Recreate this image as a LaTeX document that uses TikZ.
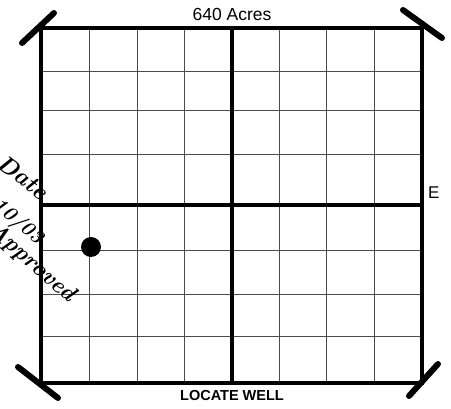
\documentclass[tikz,border=0pt]{standalone}
\usepackage{fontspec}
\setmainfont{Liberation Sans}
\begin{document}
\begin{tikzpicture}[x=1pt,y=-1pt,
  gridline/.style={draw=black!70,line width=0.9pt},
  border/.style={draw=black,line width=3.2pt},
  midline/.style={draw=black,line width=4.5pt},
  cornermark/.style={draw=black,line width=6pt,line cap=round},
  hand/.style={font=\fontspec{Latin Modern Roman}\bfseries\itshape,inner sep=0pt}]
\useasboundingbox (0,0) rectangle (451,409);
% thin grid lines
\foreach \x in {89,137,184,279,326,374} \draw[gridline] (\x,28) -- (\x,383);
\foreach \y in {71,110,154,250,294,336} \draw[gridline] (41,\y) -- (422,\y);
% thick center lines
\draw[midline] (232,28) -- (232,383);
\draw[midline] (41,205) -- (422,205);
% border
\draw[border] (41,28) rectangle (422,383);
% corner marks
\draw[cornermark] (22,43) -- (54,13);
\draw[cornermark] (403,10) -- (442,38);
\draw[cornermark] (18,367) -- (58,398);
\draw[cornermark] (409,396) -- (438,364);
% well location
\fill[black] (91,247) circle (10);
% texts
\node[font=\fontsize{17.5}{20}\selectfont,anchor=base] (acres) at (232,21) {640 Acres};
\node[font=\fontsize{17}{20}\selectfont,anchor=base west,inner sep=0pt] (east) at (428,199) {E};
\node[font=\fontsize{14.5}{17}\selectfont\bfseries,anchor=base] (locate) at (232,401) {LOCATE WELL};
% handwriting
\node[hand,font=\fontsize{24}{26}\selectfont\fontspec{Latin Modern Roman}\bfseries\itshape,rotate=-37] (date) at (23,177) {Date};
\node[hand,font=\fontsize{20}{22}\selectfont\fontspec{Latin Modern Roman}\bfseries\itshape,rotate=-40] (num) at (18,222) {10/03};
\node[hand,font=\fontsize{23}{25}\selectfont\fontspec{Latin Modern Roman}\bfseries\itshape,rotate=-41] (appr) at (32,263) {Approved};
\end{tikzpicture}
\end{document}
